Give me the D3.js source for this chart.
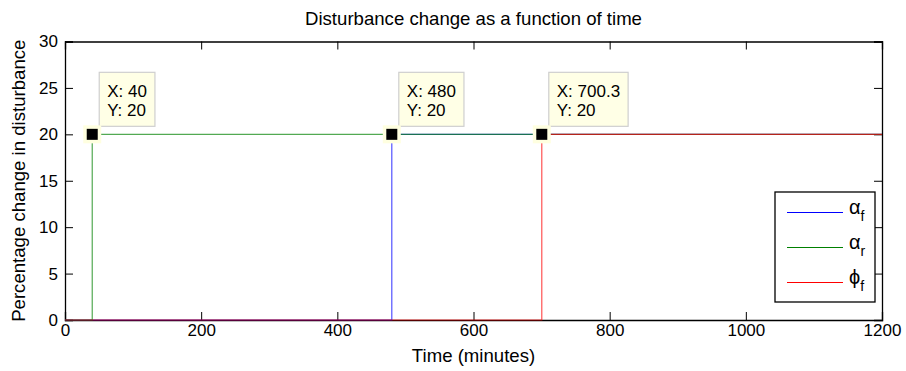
<!DOCTYPE html>
<html>
<head>
<meta charset="utf-8">
<script src="https://cdn.jsdelivr.net/npm/d3@7"></script>
<style>
  html, body { margin: 0; padding: 0; background: #fff; }
  svg { display: block; }
  text { font-family: "Liberation Sans", Arial, Helvetica, sans-serif; fill: #000; }
</style>
</head>
<body>
<svg id="chart" width="906" height="371"></svg>
<script>
// Step disturbances: each input goes from 0 to 20 % at its switch time.
const seriesNames = ["alpha_f", "alpha_r", "phi_f"];
const seriesColors = ["#0000ff", "#008000", "#ff0000"];
const switchTimes = [480, 40, 700.3];
const stepLevels = [20, 20, 20];
const timeEnd = 1200;

const xTicks = [0, 200, 400, 600, 800, 1000, 1200];
const yTicks = [0, 5, 10, 15, 20, 25, 30];

// Data tips pinned on the rising edges
const tipX = [40, 480, 700.3];
const tipY = [20, 20, 20];
const tipLabels = ["40", "480", "700.3"];

const svg = d3.select("#chart");
const m = { left: 65, right: 24, top: 41.5, bottom: 51 };
const W = 906, H = 371;
const iw = W - m.left - m.right, ih = H - m.top - m.bottom;

const x = d3.scaleLinear().domain([0, 1200]).range([m.left, m.left + iw]);
const y = d3.scaleLinear().domain([0, 30]).range([m.top + ih, m.top]);

const FS = 17;      // tick labels
const LFS = 18.6;   // title and axis labels

// plot area
svg.append("rect").attr("x", m.left).attr("y", m.top).attr("width", iw).attr("height", ih)
  .attr("fill", "#fff");

// axes: box with inward ticks on all four sides
const tickLen = 8;
const ax = svg.append("g").attr("class", "axes");
const bottomAxis = d3.axisBottom(x).tickValues(xTicks).tickSize(-tickLen).tickPadding(4).tickFormat(d3.format("d"));
const topAxis = d3.axisTop(x).tickValues(xTicks).tickSize(-tickLen).tickFormat("");
const leftAxis = d3.axisLeft(y).tickValues(yTicks).tickSize(-tickLen).tickPadding(7).tickFormat(d3.format("d"));
const rightAxis = d3.axisRight(y).tickValues(yTicks).tickSize(-tickLen).tickFormat("");

[[bottomAxis, `translate(0,${m.top + ih})`],
 [topAxis, `translate(0,${m.top})`],
 [leftAxis, `translate(${m.left},0)`],
 [rightAxis, `translate(${m.left + iw},0)`]].forEach(([a, tr]) => {
  const g = ax.append("g").attr("transform", tr).call(a);
  g.select(".domain").attr("stroke", "#000").attr("stroke-width", 1.3);
  g.selectAll(".tick line").attr("stroke", "#000").attr("stroke-width", 1);
  g.selectAll(".tick text").style("font-size", FS + "px").style("font-family", "Liberation Sans, Arial, sans-serif").attr("fill", "#000");
});

// series as step lines, drawn over the axis box
const line = d3.line().x(d => x(d[0])).y(d => y(d[1]));
[0, 1, 2].forEach(i => {
  const t = switchTimes[i];
  const pts = [[0, 0], [t, 0], [t, stepLevels[i]], [timeEnd, stepLevels[i]]];
  svg.append("path")
    .attr("d", line(pts))
    .attr("fill", "none")
    .attr("stroke", seriesColors[i])
    .attr("stroke-opacity", 0.68)
    .attr("stroke-width", 1.2);
});

// title and axis labels
svg.append("text").attr("x", x(600)).attr("y", 25).attr("text-anchor", "middle")
  .style("font-size", LFS + "px").text("Disturbance change as a function of time");
svg.append("text").attr("x", x(600)).attr("y", 362).attr("text-anchor", "middle")
  .style("font-size", LFS + "px").text("Time (minutes)");
svg.append("text").attr("transform", `translate(25,${y(15) + 0})rotate(-90)`).attr("text-anchor", "middle")
  .style("font-size", LFS + "px").text("Percentage change in disturbance");

// data tips
tipX.forEach((tx, k) => {
  const cx = x(tx), cy = y(tipY[k]);
  const g = svg.append("g");
  const t1 = g.append("text").attr("x", cx + 15).attr("y", cy - 37).style("font-size", "17px").text("X: " + tipLabels[k]);
  const t2 = g.append("text").attr("x", cx + 15).attr("y", cy - 18).style("font-size", "17px").text("Y: " + tipY[k]);
  const w = Math.max(t1.node().getComputedTextLength(), t2.node().getComputedTextLength()) + 16;
  g.insert("rect", "text").attr("x", cx + 7).attr("y", cy - 62).attr("width", w).attr("height", 54)
    .attr("fill", "#ffffe6").attr("stroke", "#cfcfcf").attr("stroke-width", 1.2);
  svg.append("rect").attr("x", cx - 9).attr("y", cy - 9).attr("width", 18).attr("height", 18).attr("fill", "#ffffe0");
  svg.append("rect").attr("x", cx - 5.5).attr("y", cy - 5.5).attr("width", 11).attr("height", 11).attr("fill", "#000");
});

// legend
const lg = svg.append("g");
lg.append("rect").attr("x", 775).attr("y", 192).attr("width", 100).attr("height", 110)
  .attr("fill", "#fff").attr("stroke", "#000").attr("stroke-width", 1.3);
const legendSym = [["\u03b1", "f"], ["\u03b1", "r"], ["\u03d5", "f"]];
seriesNames.forEach((n, i) => {
  const ly = 212.5 + i * 35;
  lg.append("line").attr("x1", 787).attr("x2", 843).attr("y1", ly).attr("y2", ly)
    .attr("stroke", seriesColors[i]).attr("stroke-width", 1.2);
  const t = lg.append("text").attr("x", 849).attr("y", ly + 1).style("font-size", "20px");
  t.append("tspan").text(legendSym[i][0]);
  t.append("tspan").attr("dy", 7).style("font-size", "14px").text(legendSym[i][1]);
});
</script>
</body>
</html>
